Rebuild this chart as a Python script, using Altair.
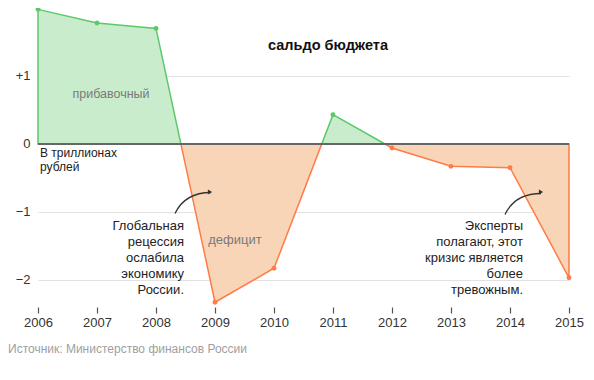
import altair as alt
import pandas as pd

years = [2006, 2007, 2008, 2009, 2010, 2011, 2012, 2013, 2014, 2015]
balance = [1.98, 1.78, 1.70, -2.33, -1.83, 0.43, -0.06, -0.33, -0.35, -1.97]
y_ticks = [-2, -1, 0, 1]
title_text = "сальдо бюджета"
surplus_label = "прибавочный"
deficit_label = "дефицит"
unit_label = ["В триллионах", "рублей"]
note_left = ["Глобальная", "рецессия", "ослабила", "экономику", "России."]
note_right = ["Эксперты", "полагают, этот", "кризис является", "более", "тревожным."]
source_text = "Источник: Министерство финансов России"

GREEN_LINE = "#5cc86a"
GREEN_FILL = "#c9eccd"
ORANGE_LINE = "#ff7b47"
ORANGE_FILL = "#f8d5b6"
FONT = "Liberation Sans"

df = pd.DataFrame({"year": years, "balance": balance})
one = pd.DataFrame({"a": [0]})

hi = max(max(balance), 0)
lo = min(min(balance), 0)
frac = hi / (hi - lo)


def split_gradient(top, bottom):
    return alt.LinearGradient(
        gradient="linear", x1=0, y1=0, x2=0, y2=1,
        stops=[
            alt.GradientStop(color=top, offset=0),
            alt.GradientStop(color=top, offset=frac),
            alt.GradientStop(color=bottom, offset=frac),
            alt.GradientStop(color=bottom, offset=1),
        ],
    )


x_enc = alt.X("year:Q", scale=alt.Scale(domain=[2006, 2015], nice=False, zero=False),
              axis=alt.Axis(values=years, format="d", grid=False, domain=False,
                            tickColor="#555", tickSize=6, tickWidth=1.2,
                            labelFontSize=13, labelColor="#333", labelFont=FONT,
                            labelPadding=3, labelFlush=False, labelOverlap=False, title=None))
y_enc = alt.Y("balance:Q", scale=alt.Scale(domain=[-2.4, 2.0], nice=False, zero=False),
              axis=alt.Axis(values=y_ticks, format="d",
                            labelExpr="datum.value > 0 ? '+' + datum.label : datum.label",
                            grid=True, gridColor="#e2e2e2", gridWidth=1.2, domain=False, ticks=False,
                            labelFontSize=13, labelColor="#333", labelFont=FONT,
                            labelPadding=8, labelFlush=False, title=None))

area = alt.Chart(df).mark_area(
    fill=split_gradient(GREEN_FILL, ORANGE_FILL),
    stroke=split_gradient(GREEN_LINE, ORANGE_LINE),
    strokeWidth=1.5, opacity=1,
).encode(x=x_enc, y=y_enc)

zero_rule = alt.Chart(one).mark_rule(color="#666", strokeWidth=2).encode(y=alt.datum(0))

points = alt.Chart(df).mark_point(filled=True, size=24, opacity=1, strokeWidth=0).encode(
    x="year:Q", y="balance:Q",
    color=alt.condition("datum.balance >= 0", alt.value(GREEN_LINE), alt.value(ORANGE_LINE)),
)


def label(text, x, y, size=13, color="#222", align="center", baseline="alphabetic", weight="normal", lh=16):
    return alt.Chart(one).mark_text(
        font=FONT, fontSize=size, color=color, align=align, baseline=baseline,
        fontWeight=weight, lineHeight=lh,
    ).encode(x=alt.value(x), y=alt.value(y), text=alt.value(text))


ARROW_PATH = "M -0.9 0.55 Q -0.4 -0.5 0.9 -0.5"


def arrow(cx, cy, hx, hy):
    curve = alt.Chart(one).mark_point(
        shape=ARROW_PATH, size=1600, filled=False, stroke="#333", strokeWidth=1.3, opacity=1,
    ).encode(x=alt.value(cx), y=alt.value(cy))
    head = alt.Chart(one).mark_point(
        shape="triangle-right", size=24, filled=True, color="#333", opacity=1, strokeWidth=0,
    ).encode(x=alt.value(hx), y=alt.value(hy))
    return curve + head


layers = [
    area, zero_rule, points,
    label(title_text, 290, 42, size=14.5, color="#111", weight="bold"),
    label(surplus_label, 73, 90, size=12.5, color="#7a7a7a"),
    label(deficit_label, 197, 236, size=13, color="#7a7a7a"),
    label(unit_label, 2, 149, size=12, color="#222", align="left", lh=13.5),
    label(note_left, 146, 222, size=13, color="#222", align="right", lh=16),
    label(note_right, 485, 222, size=13, color="#222", align="right", lh=16),
    label(source_text, -30, 345, size=12, color="#a0a0a0", align="left"),
    arrow(155, 194.5, 172, 184),
    arrow(485, 195.5, 503, 184),
]

chart = alt.layer(*layers).properties(
    width=531, height=299,
    autosize=alt.AutoSizeParams(type="none"),
    padding={"left": 30, "top": 0, "right": 17, "bottom": 65},
).configure_view(strokeWidth=0)

chart.save("out.html", embed_options={"renderer": "svg", "actions": False})
